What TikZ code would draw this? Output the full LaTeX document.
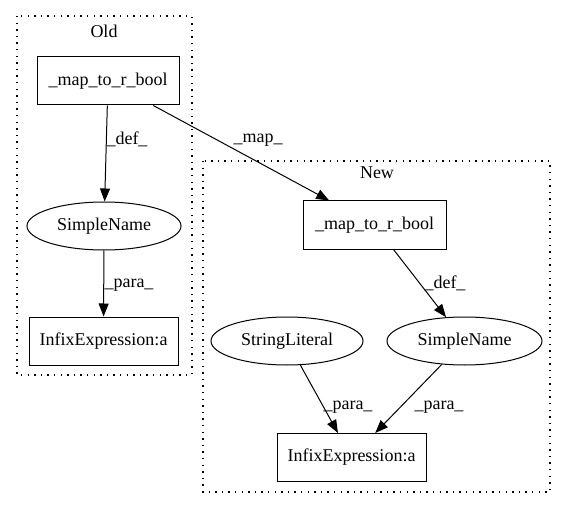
\documentclass[tikz,border=0pt]{standalone}
\usepackage{fontspec}
\setmainfont{Liberation Serif}
\usetikzlibrary{shapes.geometric,arrows.meta}
\begin{document}
\begin{tikzpicture}[x=1pt,y=-1pt, line width=1pt, font=\fontsize{18}{20}\selectfont,
  box/.style={draw, rectangle, inner sep=0, minimum height=48},
  oval/.style={draw, ellipse, inner sep=0, minimum height=48},
  cluster/.style={draw, line width=1.4pt, dash pattern=on 1.4pt off 5.2pt},
  edge/.style={-{Triangle[length=13pt,width=10pt]}}]
  \useasboundingbox (0,0) rectangle (568,508);
  % clusters
  \draw[cluster] (17,16) rectangle (192,375);
  \draw[cluster] (203,161) rectangle (550,492);
  \node (old) at (104,31) {Old};
  \node (new) at (377,173) {New};
  % nodes
  \node[box, minimum width=142] (omap) at (108,81) {\_map\_to\_r\_bool};
  \node[oval, minimum width=154] (oname) at (104,226) {SimpleName};
  \node[box, minimum width=149] (oinfix) at (103.5,341) {InfixExpression:a};
  \node[box, minimum width=143] (nmap) at (374.5,225) {\_map\_to\_r\_bool};
  \node[oval, minimum width=152] (nstr) at (287,341) {StringLiteral};
  \node[oval, minimum width=155] (nname) at (464.5,341) {SimpleName};
  \node[box, minimum width=149] (ninfix) at (351.5,457.5) {InfixExpression:a};
  % edges
  \draw[edge] (omap) -- (oname);
  \draw[edge] (oname) -- (oinfix);
  \draw[edge] (omap) -- (nmap);
  \draw[edge] (nmap) -- (nname);
  \draw[edge] (nstr) -- (ninfix);
  \draw[edge] (nname) -- (ninfix);
  % edge labels
  \node (ldef) at (127,139) {\_def\_};
  \node (lpara) at (129,285) {\_para\_};
  \node (lmap) at (258,140) {\_map\_};
  \node (ndef) at (445,283) {\_def\_};
  \node (spara) at (348,407) {\_para\_};
  \node (npara) at (439,407) {\_para\_};
\end{tikzpicture}
\end{document}
